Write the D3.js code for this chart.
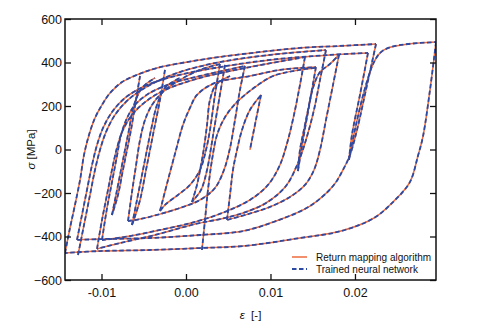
<!DOCTYPE html>
<html><head><meta charset="utf-8">
<script src="https://cdn.jsdelivr.net/npm/d3@7"></script>
<style>
body{margin:0;background:#fff}
svg{display:block}
text{font-family:"Liberation Sans",Arial,sans-serif;fill:#111}
</style>
</head><body>
<svg id="chart" width="486" height="326"></svg>
<script>
// Axis ticks and labels
const strainTicks = [-0.01, 0, 0.01, 0.02];
const strainTickLabels = ["-0.01", "0.00", "0.01", "0.02"];
const stressTicks = [-600, -400, -200, 0, 200, 400, 600];
const seriesNames = ["Return mapping algorithm", "Trained neural network"];

// Cyclic stress-strain path, split into branches: [strain, stress (MPa)]
const branchA = [[0.02959,494],[0.02888,274],[0.02805,60],[0.02745,-30],[0.02650,-150],[0.02462,-237],[0.02225,-315],[0.01834,-375],[0.01349,-407],[0.00675,-444],[0.00166,-453],[-0.00426,-462],[-0.01018,-467],[-0.01432,-476]];
const branchB = [[-0.01432,-476],[-0.01373,-361],[-0.01314,-255],[-0.01254,-140],[-0.01207,-25],[-0.01148,67],[-0.01077,145],[-0.00994,205],[-0.00899,260],[-0.00757,310],[-0.00556,347],[-0.00343,375],[0.00166,412],[0.00675,439],[0.01349,467],[0.01822,476],[0.02249,485]];
const branchC = [[0.02249,485],[0.02130,274],[0.02024,90],[0.01941,-25],[0.01858,-94],[0.01740,-168],[0.01467,-260],[0.01065,-329],[0.00675,-375],[0.00166,-393],[-0.00426,-407],[-0.01018,-412],[-0.01290,-416]];
const branchD = [[-0.01290,-416],[-0.01231,-301],[-0.01172,-186],[-0.01112,-71],[-0.01053,21],[-0.00982,99],[-0.00876,172],[-0.00722,237],[-0.00485,292],[-0.00130,338],[0.00402,379],[0.00994,412],[0.01704,435],[0.02154,444]];
const branchE = [[0.02154,444],[0.02059,251],[0.01964,67],[0.01929,-48],[0.02012,113],[0.02130,297],[0.02225,402],[0.02308,448],[0.02426,471],[0.02627,485],[0.02959,494]];
const branchF = [[-0.01278,-485],[-0.01207,-347],[-0.01136,-209],[-0.01077,-94],[-0.01018,-2],[-0.00947,80],[-0.00840,159],[-0.00686,228],[-0.00426,297],[-0.00071,356],[0.00402,402],[0.00994,435],[0.01657,457],[0.01586,320],[0.01515,182],[0.01420,44],[0.01325,-62],[0.01183,-168],[0.00947,-246],[0.00675,-292],[0.00402,-320],[0.00107,-343],[-0.00367,-393],[-0.00781,-430],[-0.01053,-457]];
const branchG = [[-0.01053,-457],[-0.00994,-324],[-0.00935,-209],[-0.00876,-94],[-0.00817,7],[-0.00746,90],[-0.00639,159],[-0.00485,218],[-0.00249,274],[0.00166,329],[0.00757,379],[0.01408,425],[0.01349,297],[0.01278,159],[0.01207,44],[0.01112,-71],[0.00970,-163],[0.00757,-232],[0.00462,-287],[0.00107,-333],[-0.00308,-370],[-0.00663,-398],[-0.00899,-412],[-0.00994,-416]];
const branchH = [[-0.00994,-416],[-0.00935,-270],[-0.00876,-150],[-0.00817,-30],[-0.00769,67],[-0.00698,145],[-0.00604,205],[-0.00450,255],[-0.00189,301],[0.00166,338],[0.00698,384],[0.00639,274],[0.00580,136],[0.00521,7],[0.00450,-94],[0.00343,-177],[0.00166,-232],[-0.00071,-269],[-0.00308,-297],[-0.00544,-320],[-0.00686,-329]];
const branchI = [[-0.00686,-329],[-0.00639,-195],[-0.00592,-75],[-0.00544,44],[-0.00485,136],[-0.00402,205],[-0.00272,265],[-0.00071,320],[0.00166,366],[0.00402,393],[0.00343,251],[0.00284,90],[0.00237,-2],[0.00166,-94],[0.00047,-163],[-0.00095,-209],[-0.00249,-255],[-0.00308,-283]];
const branchJ = [[-0.00308,-283],[-0.00213,-140],[-0.00118,-2],[-0.00036,113],[0.00047,191],[0.00130,251],[0.00343,306],[0.00757,338],[0.01112,366],[0.01538,379],[0.01479,251],[0.01408,113],[0.01349,-2],[0.01325,-99],[0.01385,44],[0.01444,172],[0.01503,283],[0.01586,356],[0.01704,393],[0.01811,435],[0.01740,297],[0.01657,136],[0.01586,-2],[0.01515,-94],[0.01408,-163],[0.01231,-218],[0.00994,-264],[0.00734,-297],[0.00485,-324],[0.00521,-209],[0.00556,-94],[0.00604,-2],[0.00663,90],[0.00757,182],[0.00888,251],[0.00828,136],[0.00757,-2]];
const branchK = [[0.00189,-462],[0.00225,-324],[0.00260,-186],[0.00308,-48],[0.00367,67],[0.00462,149],[0.00580,209],[0.00698,251],[0.00817,287],[0.01030,338],[0.01349,366],[0.01527,375]];
const branchL = [[-0.00544,338],[-0.00592,228],[-0.00651,90],[-0.00698,-2],[-0.00746,-94],[-0.00805,-209],[-0.00876,-301],[-0.00828,-209],[-0.00769,-94],[-0.00722,-2],[-0.00675,90],[-0.00615,205],[-0.00521,283],[-0.00367,329]];
const branchM = [[-0.00249,366],[-0.00308,228],[-0.00379,90],[-0.00426,-2],[-0.00473,-94],[-0.00544,-232],[-0.00639,-347],[-0.00580,-232],[-0.00509,-94],[-0.00462,-2],[-0.00414,90],[-0.00343,205],[-0.00249,283],[-0.00071,329]];
const branchN = [[0.00462,389],[0.00391,228],[0.00331,90],[0.00296,7],[0.00249,-94],[0.00178,-186],[0.00071,-241],[0.00130,-163],[0.00178,-71],[0.00213,7],[0.00249,113],[0.00284,228],[0.00355,297],[0.00521,338]];

const branches = [branchA, branchB, branchC, branchD, branchE, branchF, branchG, branchH, branchI, branchJ, branchK, branchL, branchM, branchN];

const W = 486, H = 326;
const margin = {left: 65, top: 19, right: 50, bottom: 46};
const x = d3.scaleLinear().domain([-0.01432, 0.02959]).range([margin.left, W - margin.right]);
const y = d3.scaleLinear().domain([-600, 600]).range([H - margin.bottom, margin.top]);

const svg = d3.select("#chart");

// split each branch wherever the strain direction reverses, so each piece is smooth
function splitAtReversals(pts) {
  const out = [];
  let cur = [pts[0]], dir = 0;
  for (let i = 1; i < pts.length; i++) {
    const d = Math.sign(pts[i][0] - pts[i - 1][0]);
    if (dir !== 0 && d !== 0 && d !== dir) { out.push(cur); cur = [pts[i - 1]]; }
    if (d !== 0) dir = d;
    cur.push(pts[i]);
  }
  out.push(cur);
  return out;
}
const pieces = branches.flatMap(splitAtReversals);

const line = d3.line().x(d => x(d[0])).y(d => y(d[1])).curve(d3.curveCatmullRom.alpha(0.5));

svg.append("clipPath").attr("id", "plotclip").append("rect")
  .attr("x", margin.left).attr("y", margin.top)
  .attr("width", W - margin.left - margin.right).attr("height", H - margin.top - margin.bottom);

const plot = svg.append("g").attr("clip-path", "url(#plotclip)");
plot.selectAll("path.rma").data(pieces).join("path").attr("class", "rma")
  .attr("d", line).attr("fill", "none").attr("stroke", "#ee6a3c").attr("stroke-width", 1.5);
plot.selectAll("path.nn").data(pieces).join("path").attr("class", "nn")
  .attr("d", line).attr("fill", "none").attr("stroke", "#2c4aa3").attr("stroke-width", 1.8)
  .attr("stroke-dasharray", "4.5,2.5");

// axes with inward ticks
const fs = 12.5;
const gl = svg.append("g").attr("transform", `translate(${margin.left},0)`)
  .call(d3.axisLeft(y).tickValues(stressTicks).tickSize(-6).tickPadding(3).tickFormat(d3.format("d")));
const gb = svg.append("g").attr("transform", `translate(0,${H - margin.bottom})`)
  .call(d3.axisBottom(x).tickValues(strainTicks).tickSize(-6).tickPadding(8).tickFormat((d, i) => strainTickLabels[i]));
const gt = svg.append("g").attr("transform", `translate(0,${margin.top})`)
  .call(d3.axisTop(x).tickValues(strainTicks).tickSize(-6).tickFormat(""));
const gr = svg.append("g").attr("transform", `translate(${W - margin.right},0)`)
  .call(d3.axisRight(y).tickValues(stressTicks).tickSize(-6).tickFormat(""));
[gl, gb, gt, gr].forEach(g => {
  g.select(".domain").remove();
  g.selectAll(".tick line").attr("stroke", "#111").attr("stroke-width", 1.3);
  g.selectAll("text").attr("font-size", fs).attr("font-family", "'Liberation Sans',Arial,sans-serif").attr("fill", "#111");
});

svg.append("rect").attr("x", margin.left).attr("y", margin.top)
  .attr("width", W - margin.left - margin.right).attr("height", H - margin.top - margin.bottom)
  .attr("fill", "none").attr("stroke", "#111").attr("stroke-width", 1.5);

// axis titles
const yt = svg.append("text").attr("transform", `translate(35,${(margin.top + H - margin.bottom) / 2}) rotate(-90)`)
  .attr("text-anchor", "middle").attr("font-size", 11.5);
yt.append("tspan").attr("font-style", "italic").text("σ");
yt.append("tspan").text(" [MPa]");
const xt = svg.append("text").attr("x", (margin.left + W - margin.right) / 2).attr("y", 319)
  .attr("text-anchor", "middle").attr("font-size", 11.5);
xt.append("tspan").attr("font-style", "italic").text("ε");
xt.append("tspan").text("  [-]").attr("xml:space", "preserve");

// legend
const lg = svg.append("g");
lg.append("line").attr("x1", 292).attr("x2", 307).attr("y1", 257).attr("y2", 257)
  .attr("stroke", "#ee6a3c").attr("stroke-width", 1.5);
lg.append("line").attr("x1", 292).attr("x2", 307).attr("y1", 269).attr("y2", 269)
  .attr("stroke", "#2c4aa3").attr("stroke-width", 1.8).attr("stroke-dasharray", "4.5,2.5");
lg.append("text").attr("x", 316).attr("y", 260.5).attr("font-size", 10).text(seriesNames[0]);
lg.append("text").attr("x", 316).attr("y", 272.5).attr("font-size", 10).text(seriesNames[1]);
</script>
</body></html>
